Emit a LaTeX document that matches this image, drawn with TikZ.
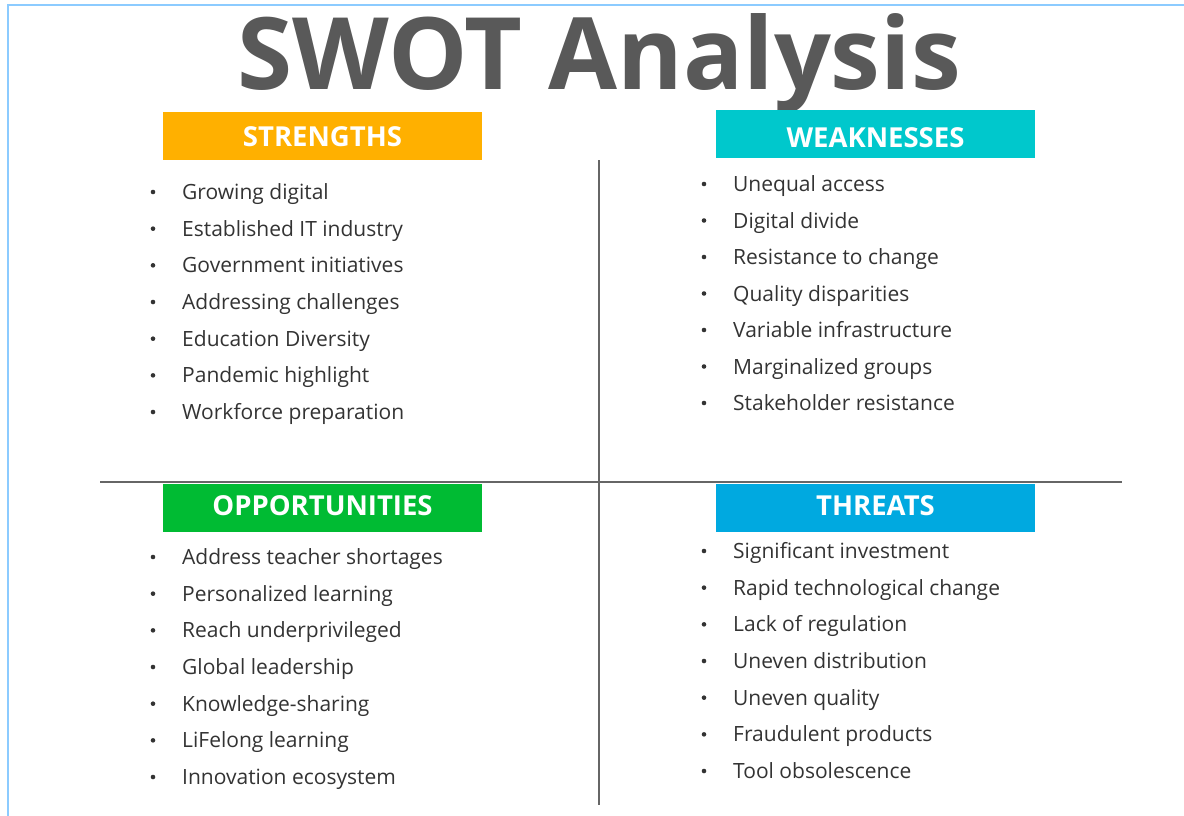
\documentclass[tikz,border=0pt]{standalone}
\usepackage{fontspec}
\setmainfont{Open Sans}
\definecolor{framecol}{HTML}{8CCBFF}
\definecolor{titlecol}{HTML}{595959}
\definecolor{strcol}{HTML}{FFB000}
\definecolor{weakcol}{HTML}{00C8CC}
\definecolor{oppcol}{HTML}{00BB33}
\definecolor{thrcol}{HTML}{00A9E0}
\definecolor{itemcol}{HTML}{333333}
\definecolor{divcol}{HTML}{666666}
\tikzset{
	headbox/.style = {minimum width = 319pt, minimum height = 48pt, inner sep = 0pt, text = white,
		font = \fontsize{27.5}{27.5}\selectfont\bfseries, text height = 19.6pt, text depth = 0pt},
	item/.style = {anchor = base west, inner sep = 0pt, text = itemcol, font = \fontsize{21}{24}\selectfont}
}
\begin{document}
\begin{tikzpicture}[x = 1pt, y = -1pt]
	\useasboundingbox (0,0) rectangle (1184,816);
	\draw[framecol, line width = 2pt] (8,816)--(8,5)--(1184,5);
	\node[anchor = base, inner sep = 0pt, text = titlecol, font = \fontsize{100}{100}\selectfont\bfseries] (title) at (599,90) {SWOT Analysis};
	\draw[divcol, line width = 2.5pt] (100,482)--(1122,482);
	\draw[divcol, line width = 2.5pt] (599,160)--(599,805);
	\node[headbox, fill = strcol, text height = 21.6pt] (strengths) at (322.5,136) {STRENGTHS};
	\node[headbox, fill = weakcol, text height = 28.6pt] (weaknesses) at (875.5,133.5) {WEAKNESSES};
	\node[headbox, fill = oppcol, text depth = 5pt] (opportunities) at (322.5,508) {OPPORTUNITIES};
	\node[headbox, fill = thrcol, text depth = 4pt] (threats) at (875.5,508) {THREATS};
	\foreach \t [count = \i] in {Growing digital, Established IT industry, Government initiatives, Addressing challenges, Education Diversity, Pandemic highlight, Workforce preparation} {
		\pgfmathsetmacro\yy{192+36.67*(\i-1)}
		\fill[itemcol] (153,\yy) circle (2.3pt);
		\node[item] (s\i) at (182,\yy+7.5) {\t};
	}
	\foreach \t [count = \i] in {Unequal access, Digital divide, Resistance to change, Quality disparities, Variable infrastructure, Marginalized groups, Stakeholder resistance} {
		\pgfmathsetmacro\yy{184+36.5*(\i-1)}
		\fill[itemcol] (704,\yy) circle (2.3pt);
		\node[item] (w\i) at (733,\yy+7.5) {\t};
	}
	\foreach \t [count = \i] in {Address teacher shortages, Personalized learning, Reach underprivileged, Global leadership, Knowledge-sharing, LiFelong learning, Innovation ecosystem} {
		\pgfmathsetmacro\yy{557+36.67*(\i-1)}
		\fill[itemcol] (153,\yy) circle (2.3pt);
		\node[item] (o\i) at (182,\yy+7.5) {\t};
	}
	\foreach \t [count = \i] in {Significant investment, Rapid technological change, Lack of regulation, Uneven distribution, Uneven quality, Fraudulent products, Tool obsolescence} {
		\pgfmathsetmacro\yy{551+36.67*(\i-1)}
		\fill[itemcol] (704,\yy) circle (2.3pt);
		\node[item] (t\i) at (733,\yy+7.5) {\t};
	}
\end{tikzpicture}
\end{document}
